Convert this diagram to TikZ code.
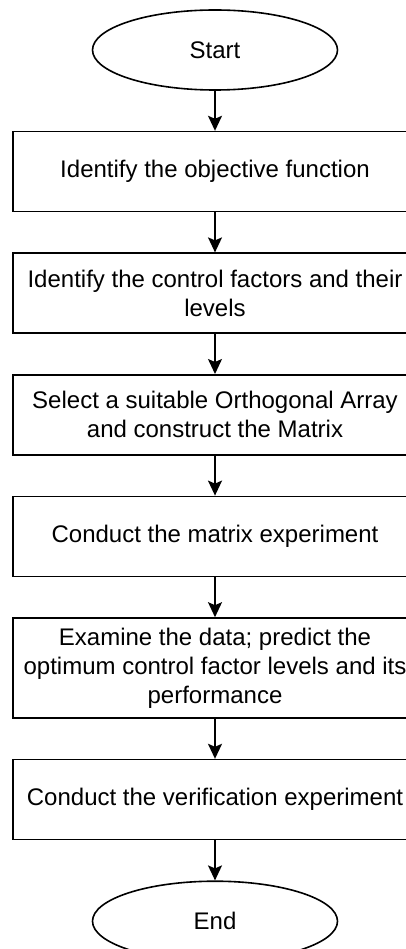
\documentclass[tikz,border=0pt]{standalone}
\usepackage{fontspec}
\setmainfont{Liberation Sans}
\usepackage{tikz}
\usetikzlibrary{shapes.geometric,arrows.meta,positioning}

\begin{document}
\begin{tikzpicture}[node distance=40pt,
        font=\fontsize{24}{29}\selectfont,
        terminal/.style={ellipse, draw, line width=1.6pt, minimum width=245pt, minimum height=80pt},
        process/.style={rectangle, draw, line width=1.6pt, minimum width=404pt, minimum height=80pt, align=center},
        flow/.style={line width=1.6pt, -{Stealth[length=15pt,width=14pt,inset=3pt]}}]
            \useasboundingbox (0,0) rectangle (406pt,-949pt);
            \node[terminal] (start) at (215pt,-50pt) {Start};
            \node[process] (identify) [below=of start] {Identify the objective function};
            \node[process] (factors) [below=of identify] {Identify the control factors and their\\levels};
            \node[process] (array) [below=of factors] {Select a suitable Orthogonal Array\\and construct the Matrix};
            \node[process] (experiment) [below=of array] {Conduct the matrix experiment};
            \node[process, minimum height=100pt] (predict) [below=of experiment] {Examine the data; predict the\\optimum control factor levels and its\\performance};
            \node[process] (verify) [below=of predict] {Conduct the verification experiment};
            \node[terminal] (stop) [below=of verify] {End};
            \path[flow]
                (start) edge (identify)
                (identify) edge (factors)
                (factors) edge (array)
                (array) edge (experiment)
                (experiment) edge (predict)
                (predict) edge (verify)
                (verify) edge (stop);
        \end{tikzpicture}
\end{document}
